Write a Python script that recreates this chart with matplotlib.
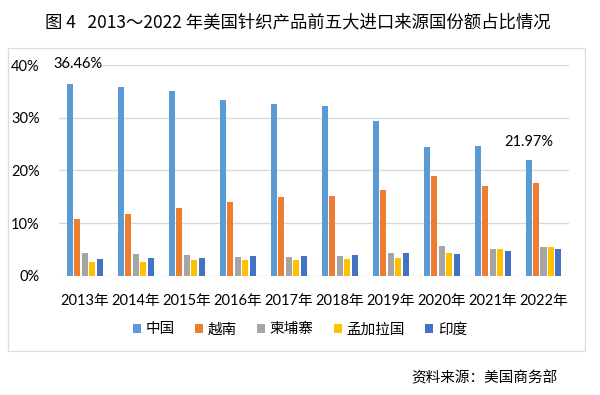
import matplotlib
matplotlib.use('Agg')
import matplotlib.pyplot as plt
from matplotlib.patches import Rectangle
import numpy as np

plt.rcParams['font.family'] = ['Lato', 'Noto Sans CJK SC', 'DejaVu Sans']

years = ['2013年', '2014年', '2015年', '2016年', '2017年',
         '2018年', '2019年', '2020年', '2021年', '2022年']
countries = ['中国', '越南', '柬埔寨', '孟加拉国', '印度']
colors = ['#5B9BD5', '#ED7D31', '#A5A5A5', '#FFC000', '#4472C4']

china = [36.46, 35.9, 35.0, 33.4, 32.6, 32.3, 29.4, 24.4, 24.6, 21.97]
vietnam = [10.7, 11.7, 12.85, 13.9, 14.9, 15.2, 16.2, 19.0, 17.1, 17.66]
cambodia = [4.25, 4.05, 3.86, 3.48, 3.48, 3.8, 4.3, 5.57, 5.13, 5.38]
bangladesh = [2.66, 2.6, 2.97, 2.97, 2.97, 3.1, 3.4, 4.3, 5.13, 5.38]
india = [3.17, 3.3, 3.4, 3.67, 3.73, 3.9, 4.24, 4.18, 4.75, 5.06]
series = [china, vietnam, cambodia, bangladesh, india]

fig = plt.figure(figsize=(6, 3.95), dpi=100)

# chart frame
fig.patches.append(Rectangle((8 / 600, 1 - 351 / 395), 577 / 600, 303 / 395,
                             transform=fig.transFigure, fill=False,
                             edgecolor='#DDDDDD', linewidth=0.9))

ax = fig.add_axes([0.0988, 0.302, 0.8495, 0.5334])

x = np.arange(len(years))
pitch = 0.147
width = 0.118
for j, (vals, name) in enumerate(zip(series, countries)):
    ax.bar(x + (j - 2) * pitch, vals, width, color=colors[j], label=name, zorder=3)

ax.set_xlim(-0.5, len(years) - 0.5)
ax.set_ylim(0, 40)
ax.set_yticks([0, 10, 20, 30, 40])
ax.set_yticklabels(['0%', '10%', '20%', '30%', '40%'])
ax.set_xticks(x)
ax.set_xticklabels(years)
ax.grid(axis='y', color='#D9D9D9', linewidth=1, zorder=0)
for s in ax.spines.values():
    s.set_visible(False)
ax.tick_params(axis='both', length=0, labelsize=10.5, colors='#000000')
ax.tick_params(axis='x', pad=13)
ax.tick_params(axis='y', pad=14)

ax.annotate('36.46%', (x[0] - 2 * pitch, china[0]), xytext=(6, 9),
            textcoords='offset points', ha='center', va='bottom', fontsize=10.5)
ax.annotate('21.97%', (x[-1] - 2 * pitch, china[-1]), xytext=(0, 8),
            textcoords='offset points', ha='center', va='bottom', fontsize=10.5)

fig.legend(loc='center', bbox_to_anchor=(0.5, 1 - 329.5 / 395), ncol=5,
           frameon=False, fontsize=10.5, handlelength=0.55, handleheight=0.55,
           handletextpad=0.3, columnspacing=1.4)

fig.text(0.497, 1 - 22.5 / 395, '图 4   2013～2022 年美国针织产品前五大进口来源国份额占比情况',
         ha='center', va='center', fontsize=12.5, family=['Noto Sans CJK SC', 'DejaVu Sans'],
         fontweight='medium')
fig.text(558 / 600, 1 - 378 / 395, '资料来源：美国商务部', ha='right', va='center',
         fontsize=10.5, family=['Noto Sans CJK SC', 'DejaVu Sans'])

fig.savefig('out.png', dpi=100)
